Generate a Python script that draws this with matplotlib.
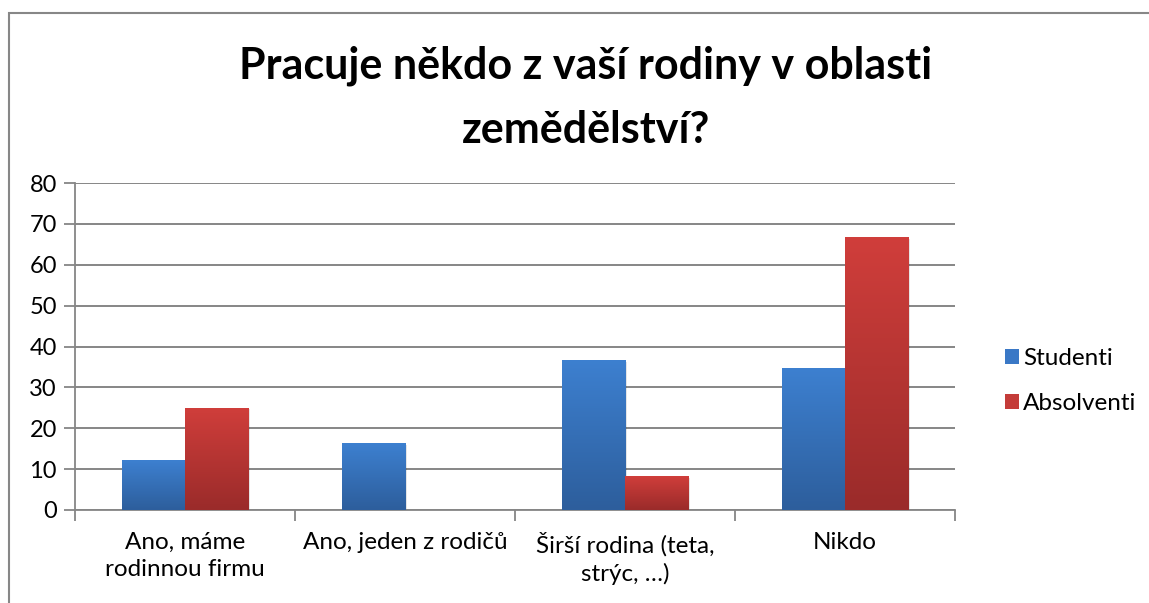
import matplotlib
matplotlib.use("Agg")
import matplotlib.pyplot as plt
import numpy as np
from matplotlib.patches import Rectangle
from matplotlib.lines import Line2D
from matplotlib.colors import LinearSegmentedColormap

categories = ["Ano, máme\nrodinnou firmu", "Ano, jeden z rodičů", "Širší rodina (teta,\nstrýc, …)", "Nikdo"]
studenti = [12.2, 16.3, 36.7, 34.7]
absolventi = [25.0, 0.0, 8.3, 66.7]
series_names = ["Studenti", "Absolventi"]
title_lines = ["Pracuje někdo z vaší rodiny v oblasti", "zemědělství?"]

plt.rcParams['font.family'] = ['Lato', 'DejaVu Sans']

W, H = 1149, 603
fig = plt.figure(figsize=(W / 100, H / 100), dpi=100)
fig.patch.set_facecolor("white")

# outer chart border (left and top visible)
bx0, by0 = 8.5 / W, 1 - 12.5 / H
fig.lines.append(Line2D([bx0, bx0, 1.0], [0.0, by0, by0], transform=fig.transFigure,
                        color="#878787", linewidth=1.5, solid_joinstyle="miter"))

ax = fig.add_axes([75 / W, 1 - 510 / H, (955 - 75) / W, (510 - 183) / H])

x = np.arange(len(categories))
bw = 0.287
blue_cm = LinearSegmentedColormap.from_list("b", ["#2D5E9C", "#3D80D0"])
red_cm = LinearSegmentedColormap.from_list("r", ["#9A2B2A", "#D03E3B"])
grad = np.linspace(0, 1, 256).reshape(-1, 1)

for vals, off, color, cm, name in [(studenti, -bw / 2, "#3A78C6", blue_cm, series_names[0]),
                                   (absolventi, bw / 2, "#C43C39", red_cm, series_names[1])]:
    bars = ax.bar(x + off, vals, bw, color=color, label=name, zorder=3)
    for b in bars:
        h = b.get_height()
        if h <= 0:
            continue
        bx, by, bwid = b.get_x(), b.get_y(), b.get_width()
        ax.add_patch(Rectangle((bx + 0.01, by), bwid, h - 0.4, facecolor="#000000", alpha=0.10,
                               edgecolor="none", zorder=2.5))
        im = ax.imshow(grad, cmap=cm, aspect="auto", origin="lower",
                       extent=(bx, bx + bwid, by, by + h), zorder=3.5)
        im.set_clip_path(b)

ax.set_xlim(-0.5, len(categories) - 0.5)
ax.set_ylim(0, 80)
ax.set_yticks(np.arange(0, 81, 10))
ax.set_xticks(np.arange(-0.5, len(categories), 1))
ax.set_xticklabels([])
ax.set_xticks(x, minor=True)
ax.set_xticklabels(categories, minor=True, fontsize=17.5, linespacing=1.35)
ax.tick_params(axis="x", which="minor", length=0, pad=16)
ax.tick_params(axis="x", which="major", length=8, width=1.3, color="#868686", direction="out")
ax.tick_params(axis="y", length=8, width=1.3, color="#868686", direction="out", labelsize=17, pad=5)
ax.yaxis.grid(True, color="#868686", linewidth=1.4, zorder=0)
ax.set_axisbelow(True)
for s in ["top", "right"]:
    ax.spines[s].set_visible(False)
for s in ["left", "bottom"]:
    ax.spines[s].set_color("#868686")
    ax.spines[s].set_linewidth(1.3)

fig.text(586 / W, 1 - 79 / H, title_lines[0], ha="center", va="baseline", fontsize=31, fontweight="bold")
fig.text(586 / W, 1 - 143 / H, title_lines[1], ha="center", va="baseline", fontsize=31, fontweight="bold")

leg = fig.legend(loc="center left", bbox_to_anchor=(993 / W, 1 - 381 / H), frameon=False,
                 fontsize=17.5, handlelength=0.55, handleheight=0.55, handletextpad=0.2,
                 labelspacing=1.0, borderpad=0)

fig.savefig("out.png", dpi=100, facecolor="white")
